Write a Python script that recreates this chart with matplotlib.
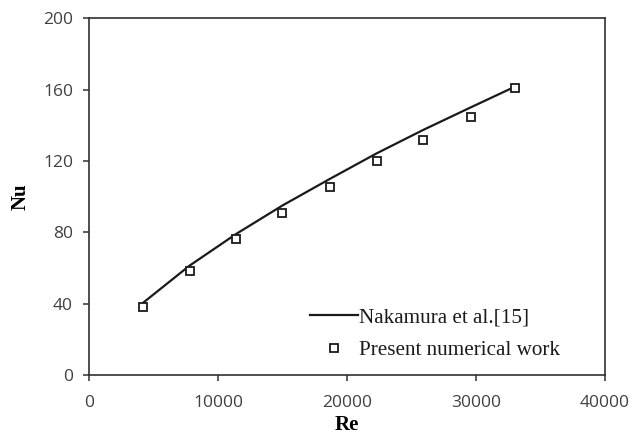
#!/usr/bin/env python3
"""
Nu vs Re: Nakamura et al. correlation against the present numerical results.
Output: out.png
"""

import matplotlib
matplotlib.use('Agg')
import matplotlib.pyplot as plt

# Nakamura et al. [15] curve
re_ref = [4200, 7800, 11400, 15000, 18700, 22300, 25900, 29600, 33000]
nu_ref = [40.5, 61.3, 79.0, 95.0, 110.0, 124.2, 137.3, 150.0, 161.5]

# Present numerical work
re_num = [4200, 7800, 11400, 15000, 18700, 22300, 25900, 29600, 33000]
nu_num = [37.9, 58.3, 76.4, 90.8, 105.5, 119.9, 131.5, 144.7, 160.6]

x_ticks = [0, 10000, 20000, 30000, 40000]
y_ticks = [0, 40, 80, 120, 160, 200]

SERIF = ['Liberation Serif', 'DejaVu Serif']
TICK_FONT = ['Open Sans', 'DejaVu Sans']


def make_figure():
    fig = plt.figure(figsize=(6.34, 4.36), dpi=100)
    ax = fig.add_axes([0.1404, 0.140, 0.8136, 0.8183])

    ax.plot(re_ref, nu_ref, color='#1a1a1a', lw=1.6,
            label='Nakamura et al.[15]')
    ax.plot(re_num, nu_num, ls='none', marker='s', ms=6.2, mfc='white',
            mec='#1a1a1a', mew=1.3, label='Present numerical work')

    ax.set_xlim(0, 40000)
    ax.set_ylim(0, 200)
    ax.set_xticks(x_ticks)
    ax.set_yticks(y_ticks)

    for sp in ax.spines.values():
        sp.set_color('#303030')
        sp.set_linewidth(1.2)

    ax.tick_params(direction='out', length=4.5, width=1.1, color='#303030',
                   labelsize=12.5, labelcolor='#404040',
                   top=False, right=False)
    ax.tick_params(axis='x', pad=10)
    ax.tick_params(axis='y', pad=7)
    for lab in ax.get_xticklabels() + ax.get_yticklabels():
        lab.set_family(TICK_FONT)

    ax.set_xlabel('Re', family=SERIF, fontweight='bold', fontsize=15,
                  labelpad=3)
    ax.set_ylabel('Nu', family=SERIF, fontweight='bold', fontsize=15,
                  labelpad=9)

    leg = ax.legend(loc='upper left', bbox_to_anchor=(0.428, 0.189),
                    frameon=False, borderpad=0, borderaxespad=0,
                    handlelength=2.3, handletextpad=0.05, labelspacing=0.62,
                    prop={'family': SERIF, 'size': 15.2})
    for t in leg.get_texts():
        t.set_color('#1a1a1a')

    return fig


def main():
    fig = make_figure()
    fig.savefig('out.png', dpi=100, facecolor='white')
    plt.close(fig)


if __name__ == '__main__':
    main()
